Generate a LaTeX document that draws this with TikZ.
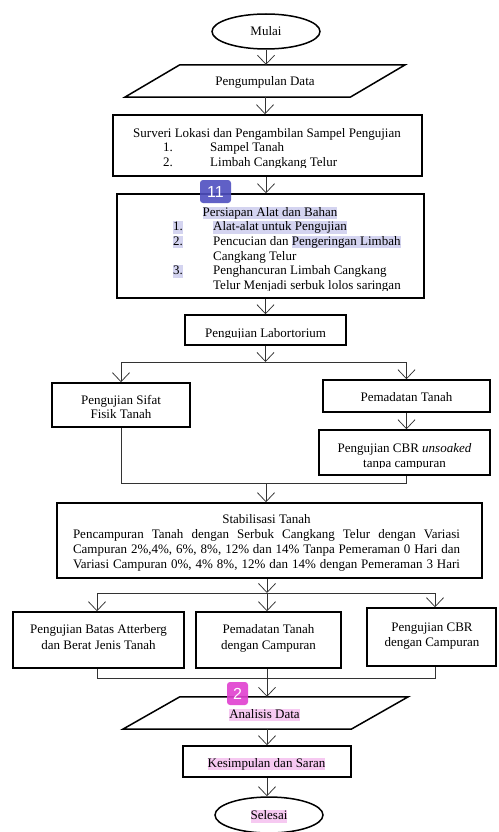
\documentclass[tikz,border=0pt]{standalone}
\usepackage{fontspec}
\setmainfont{Liberation Serif}
\setsansfont{Liberation Sans}
\usetikzlibrary{arrows.meta,calc,shapes.geometric}
\definecolor{lav}{HTML}{D4D4F0}
\definecolor{pinkhl}{HTML}{F6C9F1}
\definecolor{badgeblue}{HTML}{4F4FC0}
\definecolor{badgemag}{HTML}{E040D0}
\newcommand\hlt[2]{{\setlength\fboxsep{0pt}\colorbox{#1}{\rule[-3pt]{0pt}{12.5pt}#2}}}
\begin{document}
\begin{tikzpicture}[x=1pt,y=-1pt,
  font=\fontsize{13}{15}\selectfont,
  box/.style={draw=black, line width=1.5pt, inner sep=0pt, rectangle},
  oval/.style={draw=black, line width=1.5pt, inner sep=0pt, ellipse},
  pgbase/.style={inner sep=0pt, rectangle},
  pgram/.style={draw=black, line width=1.5pt, line join=miter},
  t/.style={inner sep=0pt, anchor=base},
  tw/.style={inner sep=0pt, anchor=base west},
  conn/.style={line width=0.75pt, draw=black!80},
  arr/.style={conn, -{Straight Barb[length=9pt,width=17pt,line width=0.75pt]}},
  badge/.style={rounded corners=3pt, fill opacity=0.9, text opacity=1, text=white,
     font=\sffamily\fontsize{16}{16}\selectfont, inner sep=0pt}]
\useasboundingbox[fill=white] (0,0) rectangle (498,832);

% ---------- shapes ----------
\node[oval, minimum width=108pt, minimum height=35pt] (mulai) at (266,31.5) {};
\node[pgbase, minimum width=280pt, minimum height=32pt] (pd) at (265,81) {};
\draw[pgram] ($(pd.north west)+(55,0)$) -- (pd.north east) -- ($(pd.south east)-(55,0)$) -- (pd.south west) -- cycle;
\node[box, minimum width=309pt, minimum height=61pt] (survei) at (267.5,145.5) {};
\node[box, minimum width=307pt, minimum height=104pt] (persiapan) at (270.5,246) {};
\node[box, minimum width=161pt, minimum height=30pt] (lab) at (265.5,330) {};
\node[box, minimum width=138pt, minimum height=44pt] (sifat) at (121,405) {};
\node[box, minimum width=167pt, minimum height=32pt] (pemadatan) at (406.5,396) {};
\node[box, minimum width=171pt, minimum height=45pt] (cbr) at (404.5,452.5) {};
\node[box, minimum width=425pt, minimum height=75pt] (stab) at (269.5,540.5) {};
\node[box, minimum width=171pt, minimum height=56pt] (ba) at (98.5,640) {};
\node[box, minimum width=145pt, minimum height=56pt] (bb) at (268.5,640) {};
\node[box, minimum width=129pt, minimum height=58pt] (bc) at (431.5,637) {};
\node[pgbase, minimum width=285pt, minimum height=32pt] (an) at (265.5,713) {};
\draw[pgram] ($(an.north west)+(57,0)$) -- (an.north east) -- ($(an.south east)-(57,0)$) -- (an.south west) -- cycle;
\node[box, minimum width=168pt, minimum height=31pt] (ks) at (267,761.5) {};
\node[oval, minimum width=108pt, minimum height=36pt] (sl) at (269,815) {};

% ---------- texts ----------
\node[t] (tmulai) at (266,35.5) {Mulai};
\node[t] (tpd) at (265,86) {Pengumpulan Data};
\node[t] (ts1) at (267,137) {Surveri Lokasi dan Pengambilan Sampel Pengujian};
\node[tw] (ts2a) at (163,151) {1.};
\node[tw] (ts2b) at (210,151) {Sampel Tanah};
\begin{scope}
\clip (114,100) rectangle (421,167.5);
\node[tw] (ts3a) at (163,166.5) {2.};
\node[tw] (ts3b) at (210,166.5) {Limbah Cangkang Telur};
\end{scope}

\node[t] (tp0) at (270,216) {\hlt{lav}{Persiapan Alat dan Bahan}};
\node[tw] (tp1a) at (173,230.5) {\hlt{lav}{1.}};
\node[tw] (tp1b) at (213,230.5) {\hlt{lav}{Alat-alat untuk Pengujian}};
\node[tw] (tp2a) at (173,245) {\hlt{lav}{2.}};
\node[tw] (tp2b) at (213,245) {Pencucian dan \hlt{lav}{Pengeringan Limbah}};
\node[tw] (tp3) at (213,260) {Cangkang Telur};
\node[tw] (tp4a) at (173,274.5) {\hlt{lav}{3.}};
\node[tw] (tp4b) at (213,274.5) {Penghancuran Limbah Cangkang};
\begin{scope}
\clip (118,200) rectangle (423,290);
\node[tw] (tp5) at (213,289) {Telur Menjadi serbuk lolos saringan};
\end{scope}

\begin{scope}
\clip (186,316) rectangle (345,337.5);
\node[t] (tlab) at (265.5,337) {Pengujian Labortorium};
\end{scope}

\node[t] (tsf1) at (121,404) {Pengujian Sifat};
\begin{scope}
\clip (53,384) rectangle (189,418.5);
\node[t] (tsf2) at (121,418.5) {Fisik Tanah};
\end{scope}

\node[t] (tpm) at (406.5,401) {Pemadatan Tanah};
\node[t] (tcb1) at (404.5,452) {Pengujian CBR \textit{unsoaked}};
\begin{scope}
\clip (320,431) rectangle (489,467.5);
\node[t] (tcb2) at (404.5,467.5) {tanpa campuran};
\end{scope}

\node[t] (tst0) at (266.5,523) {Stabilisasi Tanah};
\node[t] (tst1) at (266.5,538) {\makebox[387pt][s]{Pencampuran Tanah dengan Serbuk Cangkang Telur dengan Variasi}};
\node[t] (tst2) at (266.5,553) {\makebox[387pt][s]{Campuran 2\%,4\%, 6\%, 8\%, 12\% dan 14\% Tanpa Pemeraman 0 Hari dan}};
\node[t] (tst3) at (266.5,568) {\makebox[387pt][s]{Variasi Campuran 0\%, 4\% 8\%, 12\% dan 14\% dengan Pemeraman 3 Hari}};

\node[t] (tba1) at (98.5,633) {Pengujian Batas Atterberg};
\node[t] (tba2) at (98.5,649) {dan Berat Jenis Tanah};
\node[t] (tbb1) at (268.5,633) {Pemadatan Tanah};
\node[t] (tbb2) at (268.5,649) {dengan Campuran};
\node[t] (tbc1) at (432,631) {Pengujian CBR};
\node[t] (tbc2) at (432,646) {dengan Campuran};

\node[t] (tan) at (264.5,718) {\hlt{pinkhl}{Analisis Data}};
\node[t] (tks) at (266.5,767) {\hlt{pinkhl}{Kesimpulan dan Saran}};
\node[t] (tsl) at (269,819.5) {\hlt{pinkhl}{Selesai}};

% ---------- connectors ----------
\draw[arr] (mulai.south) -- (mulai.south |- pd.north);
\draw[arr] (pd.south) -- (pd.south |- survei.north);
\draw[arr] (survei.south -| mulai.south) -- (mulai.south |- persiapan.north);
\draw[arr] (lab.north |- persiapan.south) -- (lab.north);

\coordinate (s1) at (265.5,362);
\coordinate (s1l) at (121,362);
\coordinate (s1r) at (406.5,362);
\draw[arr] (lab.south) -- (s1);
\draw[conn] (s1l) -- (s1r);
\draw[arr] (s1l) -- (sifat.north);
\draw[arr] (s1r) -- (pemadatan.north);
\draw[arr] (pemadatan.south) -- (pemadatan.south |- cbr.north);

\coordinate (m1l) at (121,483);
\coordinate (m1r) at (406.5,483);
\coordinate (m1) at (266,483);
\draw[conn] (sifat.south) -- (m1l) -- (m1r) -- (m1r |- cbr.south);
\draw[arr] (m1) -- (m1 |- stab.north);

\coordinate (s2) at (267,593);
\coordinate (s2l) at (97,593);
\coordinate (s2r) at (435,593);
\draw[arr] (s2 |- stab.south) -- (s2);
\draw[conn] (s2l) -- (s2r);
\draw[arr] (s2l) -- (s2l |- ba.north);
\draw[arr] (s2) -- (s2 |- bb.north);
\draw[arr] (s2r) -- (s2r |- bc.north);

\coordinate (m2l) at (97,678);
\coordinate (m2r) at (435,678);
\coordinate (m2) at (267,678);
\draw[conn] (s2l |- ba.south) -- (m2l) -- (m2r) -- (s2r |- bc.south);
\draw[conn] (m2 |- bb.south) -- (m2);
\draw[arr] (m2) -- (m2 |- an.north);
\draw[arr] (ks.north |- an.south) -- (ks.north);
\draw[arr] (ks.south) -- (ks.south |- sl.north);

% ---------- annotation badges ----------
\node[badge, fill=badgeblue, minimum width=31pt, minimum height=23pt] (b11) at (215.5,191.5) {11};
\node[badge, fill=badgemag, minimum width=21pt, minimum height=23pt] (b2) at (237.5,693.5) {2};
\end{tikzpicture}
\end{document}
